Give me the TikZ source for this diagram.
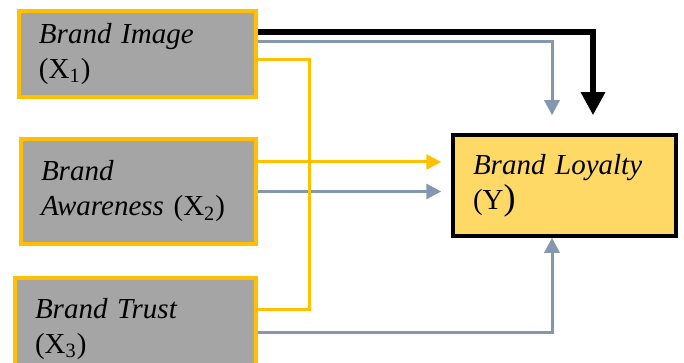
\documentclass[tikz,border=0pt]{standalone}
\usepackage{fontspec}
\setmainfont{Liberation Serif}
\usetikzlibrary{arrows.meta}
\usepackage{xcolor}
\definecolor{boxgray}{HTML}{A5A5A5}
\definecolor{gold}{HTML}{FFC000}
\definecolor{lightgold}{HTML}{FFD966}
\definecolor{steel}{HTML}{8497B0}

\begin{document}
\begin{tikzpicture}[x=0.5pt,y=-0.5pt,
					var/.style={draw=gold, fill=boxgray, line width=2pt, align=left, inner xsep=10pt, font=\fontsize{14.5}{17.5}\selectfont},
					dep/.style={draw=black, fill=lightgold, line width=1.75pt, align=left, inner xsep=10pt, font=\fontsize{14.5}{17.5}\selectfont},
					steelarrow/.style={draw=steel, line width=1.5pt, -{Triangle[length=7.5pt,width=7.5pt]}},
					goldarrow/.style={draw=gold, line width=1.5pt, -{Triangle[length=7.5pt,width=7.5pt]}},
					goldline/.style={draw=gold, line width=1.5pt},
					boldarrow/.style={draw=black, line width=3pt, -{Triangle[length=11.5pt,width=11.5pt]}}]
    \useasboundingbox (0,0) rectangle (684,363);
    % Place nodes
    \node [var, text width=98.5pt, minimum height=43pt] (A) at (137.5,54){\textit{Brand Image}\\
    	(X\textsubscript{1})};
    \node [var, text width=97.5pt, minimum height=52.5pt] (B) at (138.5,191.5){\textit{Brand}\\
    	\textit{Awareness} (X\textsubscript{2})};
    \node [var, text width=100.5pt, minimum height=51pt] (C) at (135.5,329){\textit{Brand Trust}\\
    	(X\textsubscript{3})};
    \node [dep, text width=91.5pt, minimum height=50.5pt] (D) at (564.5,185.5){\textit{Brand Loyalty}\\
    	(Y{\fontsize{18}{18}\selectfont )}};
    % Free ends above the loyalty box
    \coordinate (boldend) at ([xshift=14.25pt,yshift=9pt]D.north);
    \coordinate (steelend) at ([xshift=-6.25pt,yshift=9pt]D.north);
    \coordinate (bhigh) at ([yshift=14.75pt]B.east);
    % Draw edges
    \draw[boldarrow] ([yshift=11pt]A.east) -| (boldend);
    \draw[steelarrow] ([yshift=6pt]A.east) -| (steelend);
    \draw[steelarrow, shorten >=5pt] (B.east) -- (B.east -| D.west);
    \draw[steelarrow] ([yshift=-1.5pt]C.east) -| ([xshift=-6.25pt]D.south);
    \draw[goldline] ([yshift=-3pt]A.east) -- ++(25.5pt,0) |- ([yshift=10pt]C.east);
    \draw[goldarrow, shorten >=5pt] (bhigh) -- (bhigh -| D.west);
\end{tikzpicture}
\end{document}
